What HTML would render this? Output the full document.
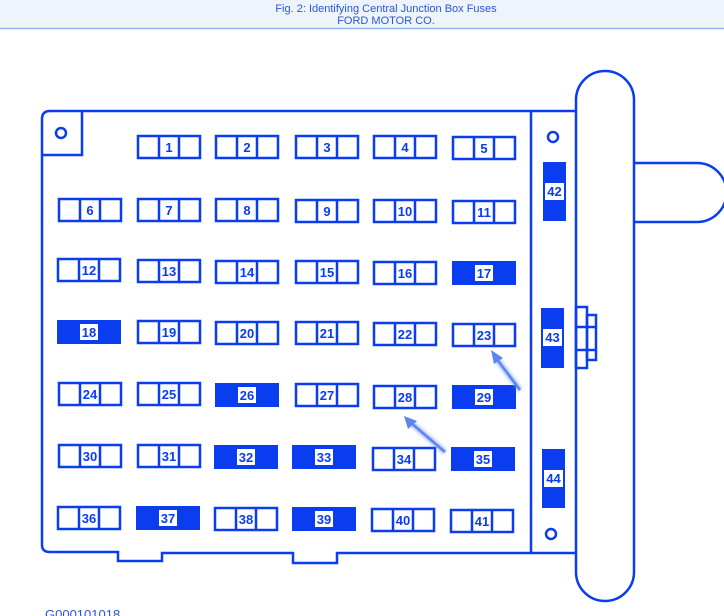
<!DOCTYPE html>
<html><head><meta charset="utf-8"><style>
html,body{margin:0;padding:0;background:#fff;width:724px;height:616px;overflow:hidden}
svg{display:block}
text{font-family:"Liberation Sans",sans-serif}
.o{fill:none;stroke:#0a3cf0;stroke-width:2.5}
.f{fill:#0a3cf0}
.n{font-size:13px;font-weight:bold;fill:#0a3cf0;text-anchor:middle}
</style></head><body>
<svg width="724" height="616" viewBox="0 0 724 616" xmlns="http://www.w3.org/2000/svg">
<defs>
<symbol id="fz" overflow="visible"><rect class="o" x="0" y="0" width="62" height="22" fill="#fff"/><line class="o" x1="21" y1="0" x2="21" y2="22"/><line class="o" x1="41" y1="0" x2="41" y2="22"/></symbol>
<symbol id="ff" overflow="visible"><rect class="f" x="-1" y="-1" width="64" height="24"/><rect x="22" y="3" width="18" height="16" fill="#fff"/></symbol>
<filter id="gl"><feGaussianBlur stdDeviation="1.5"/></filter>
</defs>
<rect x="0" y="0" width="724" height="28" fill="#eef4fc"/>
<line x1="0" y1="28.5" x2="724" y2="28.5" stroke="#8fb3ee" stroke-width="1.5"/>
<text x="386" y="12" font-size="11" fill="#2a55d8" text-anchor="middle">Fig. 2: Identifying Central Junction Box Fuses</text>
<text x="386" y="24" font-size="11" fill="#2a55d8" text-anchor="middle">FORD MOTOR CO.</text>

<path class="o" d="M50,111 H576 M42,119 Q42,111 50,111 M42,119 V545 Q42,552 50,552 H118 V561 H162 V553 H293 V563 H337 V553 H576"/>
<path class="o" d="M42,155 H82 V111"/>
<circle class="o" cx="61" cy="133" r="5"/>
<line class="o" x1="531" y1="111" x2="531" y2="553"/>
<circle class="o" cx="553" cy="137" r="5"/>
<circle class="o" cx="551" cy="534" r="5"/>
<path class="o" d="M576,100 A29,29 0 0 1 634,100 V572 A29,29 0 0 1 576,572 Z" fill="#fff"/>
<path class="o" d="M634,163 H697 A29.5,29.5 0 0 1 697,222 H634"/>
<rect class="o" x="576" y="307" width="11" height="61"/>
<rect class="o" x="587" y="315" width="9" height="45"/>
<line class="o" x1="576" y1="327" x2="596" y2="327"/>
<line class="o" x1="576" y1="350" x2="596" y2="350"/>
<rect class="f" x="543" y="162" width="23" height="59"/><rect x="545" y="183" width="19" height="17" fill="#fff"/><text class="n" x="554.5" y="196">42</text>
<rect class="f" x="541" y="308" width="23" height="60"/><rect x="543" y="329" width="19" height="17" fill="#fff"/><text class="n" x="552.5" y="342">43</text>
<rect class="f" x="542" y="449" width="23" height="59"/><rect x="544" y="470" width="19" height="17" fill="#fff"/><text class="n" x="553.5" y="483">44</text>

<use href="#fz" x="138" y="136"/><text class="n" x="169" y="152">1</text>
<use href="#fz" x="216" y="136"/><text class="n" x="247" y="152">2</text>
<use href="#fz" x="296" y="136"/><text class="n" x="327" y="152">3</text>
<use href="#fz" x="374" y="136"/><text class="n" x="405" y="152">4</text>
<use href="#fz" x="453" y="137"/><text class="n" x="484" y="153">5</text>
<use href="#fz" x="59" y="199"/><text class="n" x="90" y="215">6</text>
<use href="#fz" x="138" y="199"/><text class="n" x="169" y="215">7</text>
<use href="#fz" x="216" y="199"/><text class="n" x="247" y="215">8</text>
<use href="#fz" x="296" y="200"/><text class="n" x="327" y="216">9</text>
<use href="#fz" x="374" y="200"/><text class="n" x="405" y="216">10</text>
<use href="#fz" x="453" y="201"/><text class="n" x="484" y="217">11</text>
<use href="#fz" x="58" y="259"/><text class="n" x="89" y="275">12</text>
<use href="#fz" x="138" y="260"/><text class="n" x="169" y="276">13</text>
<use href="#fz" x="216" y="261"/><text class="n" x="247" y="277">14</text>
<use href="#fz" x="296" y="261"/><text class="n" x="327" y="277">15</text>
<use href="#fz" x="374" y="262"/><text class="n" x="405" y="278">16</text>
<use href="#ff" x="453" y="262"/><text class="n" x="484" y="278">17</text>
<use href="#ff" x="58" y="321"/><text class="n" x="89" y="337">18</text>
<use href="#fz" x="138" y="321"/><text class="n" x="169" y="337">19</text>
<use href="#fz" x="216" y="322"/><text class="n" x="247" y="338">20</text>
<use href="#fz" x="296" y="322"/><text class="n" x="327" y="338">21</text>
<use href="#fz" x="374" y="323"/><text class="n" x="405" y="339">22</text>
<use href="#fz" x="453" y="324"/><text class="n" x="484" y="340">23</text>
<use href="#fz" x="59" y="383"/><text class="n" x="90" y="399">24</text>
<use href="#fz" x="138" y="383"/><text class="n" x="169" y="399">25</text>
<use href="#ff" x="216" y="384"/><text class="n" x="247" y="400">26</text>
<use href="#fz" x="296" y="384"/><text class="n" x="327" y="400">27</text>
<use href="#fz" x="374" y="386"/><text class="n" x="405" y="402">28</text>
<use href="#ff" x="453" y="386"/><text class="n" x="484" y="402">29</text>
<use href="#fz" x="59" y="445"/><text class="n" x="90" y="461">30</text>
<use href="#fz" x="138" y="445"/><text class="n" x="169" y="461">31</text>
<use href="#ff" x="215" y="446"/><text class="n" x="246" y="462">32</text>
<use href="#ff" x="293" y="446"/><text class="n" x="324" y="462">33</text>
<use href="#fz" x="373" y="448"/><text class="n" x="404" y="464">34</text>
<use href="#ff" x="452" y="448"/><text class="n" x="483" y="464">35</text>
<use href="#fz" x="58" y="507"/><text class="n" x="89" y="523">36</text>
<use href="#ff" x="137" y="507"/><text class="n" x="168" y="523">37</text>
<use href="#fz" x="215" y="508"/><text class="n" x="246" y="524">38</text>
<use href="#ff" x="293" y="508"/><text class="n" x="324" y="524">39</text>
<use href="#fz" x="372" y="509"/><text class="n" x="403" y="525">40</text>
<use href="#fz" x="451" y="510"/><text class="n" x="482" y="526">41</text>

<g stroke="#5b86f0" fill="#5b86f0">
<g filter="url(#gl)" opacity="0.6"><line x1="520" y1="390" x2="496" y2="358" stroke-width="5"/><line x1="445" y1="452" x2="410" y2="422" stroke-width="5"/></g>
<line x1="520" y1="390" x2="496" y2="358" stroke-width="2.5"/>
<polygon points="491,350 503,358 494,364" stroke="none"/>
<line x1="445" y1="452" x2="410" y2="422" stroke-width="2.5"/>
<polygon points="404,416 417,421 408,429" stroke="none"/>
</g>
<text x="45" y="619" font-size="13" fill="#2a55d8">G000101018</text>
</svg>
</body></html>
